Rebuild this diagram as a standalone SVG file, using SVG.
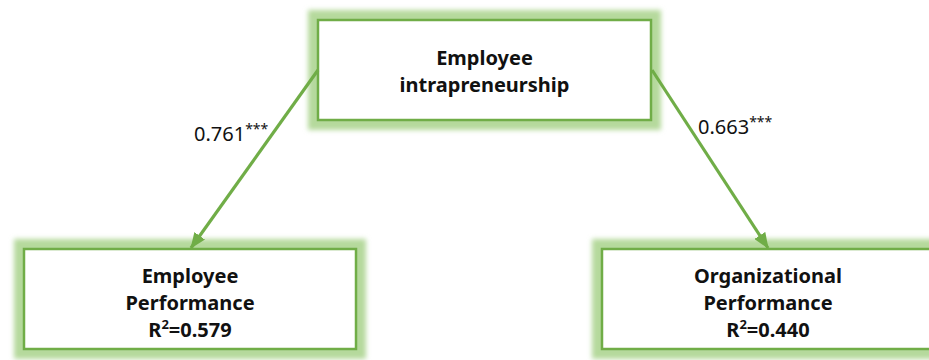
<svg xmlns="http://www.w3.org/2000/svg" width="929" height="360" viewBox="0 0 929 360">
  <style>
    .glow { fill: none; stroke: #B5D99C; stroke-width: 20; filter: url(#soft); }
    .box { fill: #FFFFFF; stroke: #70AD47; stroke-width: 2.5; }
    .title { font-family: "Noto Sans", "Open Sans", sans-serif; font-weight: bold; font-size: 20px; fill: #111111; text-anchor: middle; }
    .coef { font-family: "Noto Sans", "Open Sans", sans-serif; font-size: 20px; fill: #111111; }
    .link { stroke: #70AD47; stroke-width: 3.2; fill: none; marker-end: url(#head); }
  </style>
  <defs>
    <filter id="soft" x="-20%" y="-40%" width="140%" height="180%">
      <feGaussianBlur stdDeviation="2.5"/>
    </filter>
    <marker id="head" viewBox="0 0 16 13" refX="15" refY="6.5" markerWidth="16" markerHeight="13" markerUnits="userSpaceOnUse" orient="auto">
      <path d="M0,0 L16,6.5 L0,13 Z" fill="#70AD47"/>
    </marker>
  </defs>

  <g id="node-intrapreneurship">
    <rect class="glow" x="318" y="20" width="333" height="100"/>
    <rect class="box" x="318" y="20" width="333" height="100"/>
    <text class="title" x="484.5" y="65">Employee</text>
    <text class="title" x="484.5" y="92">intrapreneurship</text>
  </g>

  <g id="node-employee-performance">
    <rect class="glow" x="24" y="249" width="332" height="100"/>
    <rect class="box" x="24" y="249" width="332" height="100"/>
    <text class="title" x="190" y="283">Employee</text>
    <text class="title" x="190" y="310">Performance</text>
    <text class="title" x="190" y="337">R<tspan font-size="13" dy="-8">2</tspan><tspan dy="8">=0.579</tspan></text>
  </g>

  <g id="node-organizational-performance">
    <rect class="glow" x="602" y="249" width="332" height="100"/>
    <rect class="box" x="602" y="249" width="332" height="100"/>
    <text class="title" x="768" y="283">Organizational</text>
    <text class="title" x="768" y="310">Performance</text>
    <text class="title" x="768" y="337">R<tspan font-size="13" dy="-8">2</tspan><tspan dy="8">=0.440</tspan></text>
  </g>

  <!-- path coefficients drawn above the node glow -->
  <g id="connectors">
    <line class="link" x1="318" y1="70" x2="191" y2="248"/>
    <line class="link" x1="652" y1="70" x2="768" y2="248"/>
  </g>

  <g id="labels">
    <text class="coef" x="194" y="141">0.761<tspan font-size="14" dy="-7">***</tspan></text>
    <text class="coef" x="698" y="134">0.663<tspan font-size="14" dy="-7">***</tspan></text>
  </g>
</svg>
